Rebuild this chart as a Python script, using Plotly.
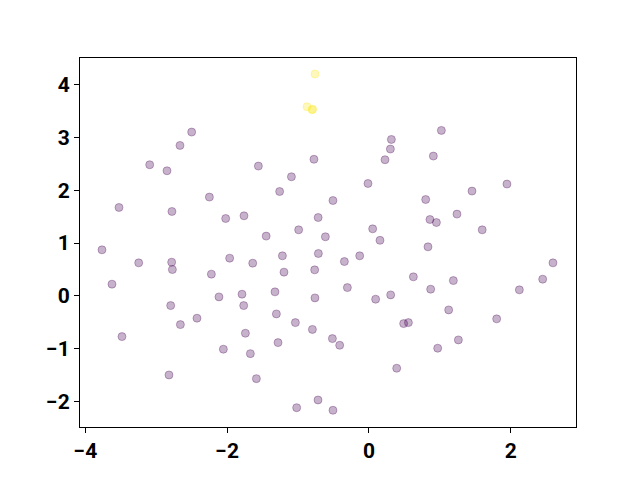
import plotly.graph_objects as go

x_purple = [-3.766, -3.625, -3.484, -3.526, -3.248, -3.093, -2.849, -2.783, -2.773, -2.779,
            -2.797, -2.821, -2.666, -2.660, -2.501, -2.426, -2.251, -2.223, -2.116, -2.054,
            -2.021, -1.965, -1.791, -1.767, -1.763, -1.743, -1.673, -1.640, -1.588, -1.560,
            -1.450, -1.260, -1.221, -1.199, -1.326, -1.306, -1.283, -1.094, -1.038, -1.020,
            -0.992, -0.798, -0.776, -0.766, -0.762, -0.717, -0.714, -0.719, -0.615, -0.508,
            -0.516, -0.413, -0.508, -0.347, -0.305, -0.131, -0.014, 0.052, 0.094, 0.155,
            0.226, 0.316, 0.302, 0.306, 0.391, 0.489, 0.556, 0.626, 0.800, 0.832,
            0.860, 0.870, 0.908, 0.951, 0.969, 1.021, 1.124, 1.190, 1.241, 1.261,
            1.453, 1.597, 1.801, 1.946, 2.121, 2.450, 2.595]
y_purple = [0.873, 0.222, -0.772, 1.676, 0.626, 2.486, 2.372, 0.639, 0.499, 1.600,
            -0.184, -1.499, 2.852, -0.545, 3.106, -0.423, 1.873, 0.412, -0.019, -1.011,
            1.467, 0.715, 0.032, -0.184, 1.518, -0.708, -1.095, 0.620, -1.569, 2.461,
            1.133, 1.979, 0.759, 0.450, 0.076, -0.342, -0.886, 2.258, -0.507, -2.120,
            1.252, -0.636, 2.590, 0.493, -0.038, 1.486, 0.803, -1.973, 1.120, 1.808,
            -0.810, -0.936, -2.169, 0.651, 0.157, 0.759, 2.131, 1.271, -0.063, 1.053,
            2.581, 2.966, 2.784, 0.019, -1.372, -0.526, -0.507, 0.361, 1.827, 0.930,
            1.448, 0.127, 2.651, 1.391, -0.992, 3.137, -0.266, 0.290, 1.550, -0.835,
            1.987, 1.252, -0.436, 2.120, 0.114, 0.317, 0.626]

x_yellow = [-0.762, -0.874, -0.804, -0.794]
y_yellow = [4.207, 3.586, 3.529, 3.539]

purple = "rgba(68,1,84,0.3)"
yellow = "rgba(253,231,37,0.3)"

fig = go.Figure()
fig.add_trace(go.Scatter(x=x_purple, y=y_purple, mode="markers",
                         marker=dict(size=8, color=purple,
                                     line=dict(color=purple, width=1))))
fig.add_trace(go.Scatter(x=x_yellow, y=y_yellow, mode="markers",
                         marker=dict(size=8, color=yellow,
                                     line=dict(color=yellow, width=1))))

tickfont = dict(family="Roboto", size=21, weight="bold", color="black")
fig.update_layout(
    width=624, height=464,
    margin=dict(l=72, r=56, t=50, b=45, pad=0),
    paper_bgcolor="white", plot_bgcolor="white",
    showlegend=False,
    xaxis=dict(range=[-4.076, 2.92], tickvals=[-4, -2, 0, 2], ticktext=["−4", "−2", "0", "2"],
               showgrid=False, zeroline=False, showline=True, linecolor="black", linewidth=1,
               mirror=True, ticks="outside", ticklen=5, tickcolor="black", tickfont=tickfont,
               automargin=False),
    yaxis=dict(range=[-2.486, 4.51], tickvals=[-2, -1, 0, 1, 2, 3, 4],
               ticktext=["−2", "−1", "0", "1", "2", "3", "4"],
               showgrid=False, zeroline=False, showline=True, linecolor="black", linewidth=1,
               mirror=True, ticks="outside", ticklen=5, tickcolor="black", tickfont=tickfont,
               automargin=False),
)
fig.write_html("out.html")
